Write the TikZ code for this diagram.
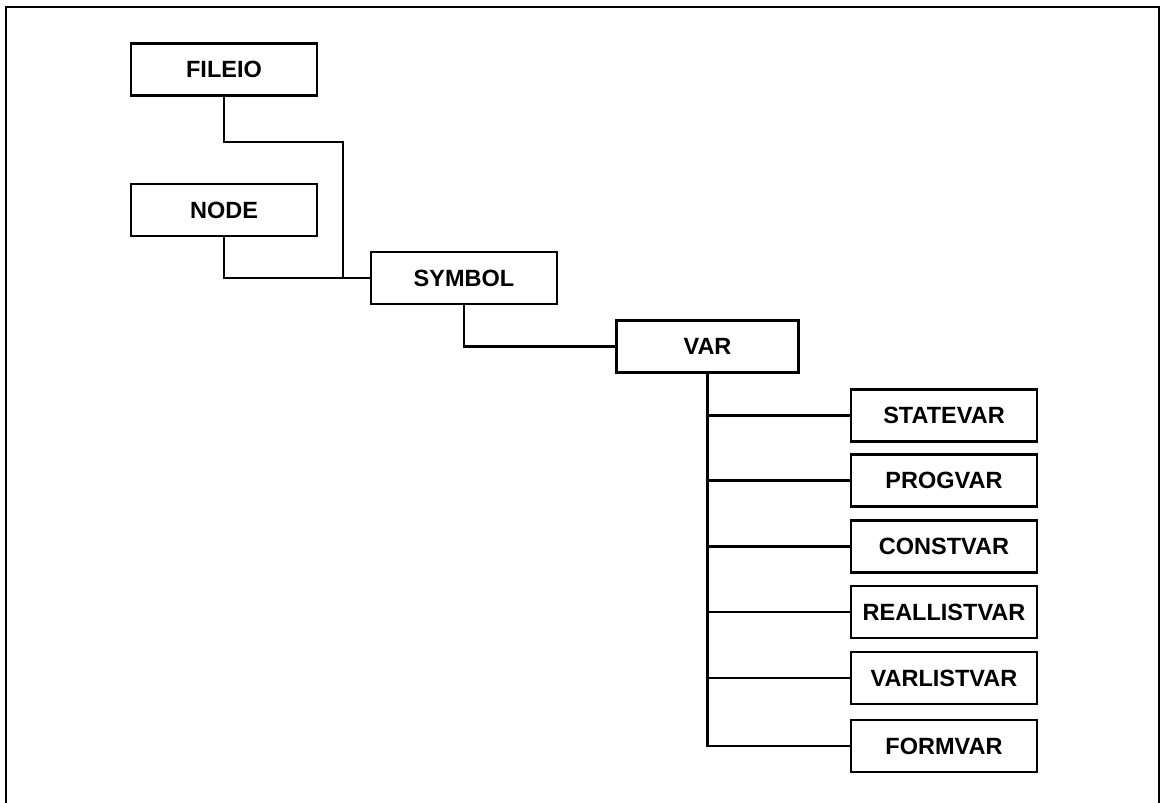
\documentclass[tikz,border=0pt]{standalone}
\usepackage{fontspec}
\setmainfont{Liberation Sans}
\begin{document}
\begin{tikzpicture}[x=1pt,y=-1pt,
  box/.style={draw, line width=2.8pt, minimum width=186pt, minimum height=52pt,
    inner sep=0pt, font=\fontsize{23.5}{27}\selectfont\bfseries},
  link/.style={line width=2.8pt},
  frame/.style={line width=2.2pt}]
\useasboundingbox (0,0) rectangle (1162,803);
% outer frame, open at the bottom
\draw[frame] (6,803) -- (6,7) -- (1159,7) -- (1159,803);

% class boxes
\node[box] (FILEIO) at (224,69.5) {FILEIO};
\node[box] (NODE) at (224,210) {NODE};
\node[box] (SYMBOL) at (464,278) {SYMBOL};
\node[box, minimum width=182pt] (VAR) at (707.5,346.5) {VAR};
\node[box] (STATEVAR) at (944,415.5) {STATEVAR};
\node[box] (PROGVAR) at (944,480.5) {PROGVAR};
\node[box] (CONSTVAR) at (944,546.5) {CONSTVAR};
\node[box] (REALLISTVAR) at (944,612) {REALLISTVAR};
\node[box] (VARLISTVAR) at (944,678) {VARLISTVAR};
\node[box] (FORMVAR) at (944,746) {FORMVAR};

% connectors
\coordinate (k1) at (343,142);
\coordinate (j1) at (343,278);
\draw[link] (FILEIO.south) |- (k1) -- (j1);
\draw[link] (NODE.south) |- (SYMBOL.west);
\draw[link] (SYMBOL.south) |- (VAR.west);
\draw[link] (VAR.south) |- (FORMVAR.west);
\foreach \c in {STATEVAR,PROGVAR,CONSTVAR,REALLISTVAR,VARLISTVAR}
  \draw[link] (VAR.south |- \c.west) -- (\c.west);
\end{tikzpicture}
\end{document}
